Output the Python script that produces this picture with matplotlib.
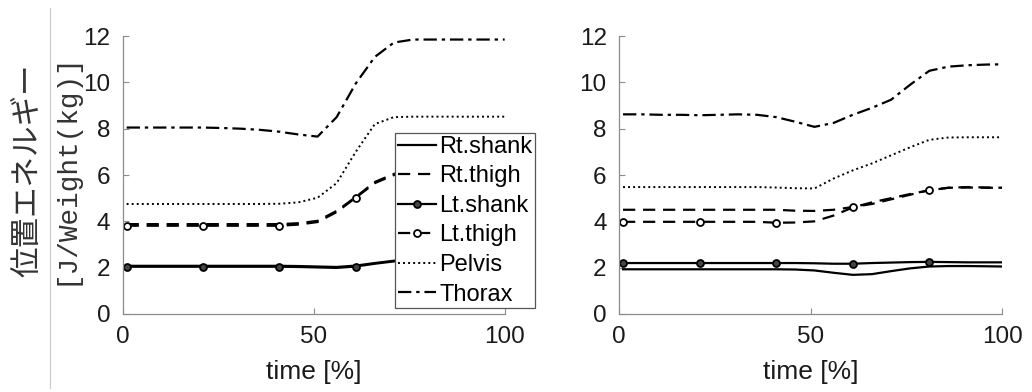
import matplotlib
matplotlib.use("Agg")
import matplotlib.pyplot as plt
from matplotlib.lines import Line2D

plt.rcParams["font.family"] = ["Liberation Sans", "Noto Sans CJK JP", "DejaVu Sans"]

# time axis samples [%] and the series
T = [1, 6, 11, 16, 21, 26, 31, 36, 41, 46, 51, 56, 61, 66, 71, 76, 81, 86, 91, 96, 100]
MARK_IDX = [0, 4, 8, 12, 16]          # markers at 1, 21, 41, 61, 81 %

LABELS = ["Rt.shank", "Rt.thigh", "Lt.shank", "Lt.thigh", "Pelvis", "Thorax"]

# left panel
L_rshank = [2.08] * 9 + [2.07, 2.05, 2.03, 2.09, 2.20, 2.30, 2.33, 2.33, 2.33, 2.33, 2.33, 2.33]
L_rthigh = [3.88] * 9 + [3.92, 4.02, 4.45, 5.05, 5.70, 6.05, 6.15, 6.18, 6.18, 6.18, 6.18, 6.18]
L_lshank = [2.04] * 9 + [2.03, 2.01, 1.99, 2.05, 2.17, 2.27, 2.30, 2.30, 2.30, 2.30, 2.30, 2.30]
L_lthigh = [3.81] * 9 + [3.86, 3.97, 4.40, 5.02, 5.65, 6.00, 6.12, 6.15, 6.15, 6.15, 6.15, 6.15]
L_pelvis = [4.75] * 8 + [4.76, 4.82, 5.02, 5.65, 7.00, 8.20, 8.50, 8.52, 8.52, 8.52, 8.52, 8.52, 8.52]
L_thorax = [8.05, 8.05, 8.05, 8.05, 8.05, 8.03, 8.00, 7.95, 7.87, 7.75, 7.66,
            8.50, 9.95, 11.10, 11.72, 11.85, 11.85, 11.85, 11.85, 11.85, 11.85]

# right panel
R_rshank = [1.93] * 9 + [1.92, 1.88, 1.78, 1.69, 1.72, 1.85, 1.97, 2.05, 2.07, 2.07, 2.06, 2.05]
R_rthigh = [4.50] * 9 + [4.46, 4.45, 4.50, 4.62, 4.75, 4.95, 5.15, 5.35, 5.45, 5.46, 5.45, 5.45]
R_lshank = [2.20] * 9 + [2.20, 2.19, 2.17, 2.17, 2.20, 2.22, 2.24, 2.25, 2.24, 2.23, 2.23, 2.23]
R_lthigh = [3.98] * 8 + [3.94, 3.95, 4.00, 4.25, 4.60, 4.82, 5.00, 5.18, 5.34, 5.45, 5.48, 5.46, 5.45]
R_pelvis = [5.48] * 8 + [5.46, 5.43, 5.42, 5.85, 6.20, 6.50, 6.85, 7.20, 7.52, 7.62, 7.63, 7.63, 7.63]
R_thorax = [8.62, 8.62, 8.60, 8.60, 8.58, 8.60, 8.62, 8.60, 8.50, 8.30, 8.08,
            8.25, 8.60, 8.90, 9.25, 9.90, 10.50, 10.68, 10.74, 10.77, 10.78]

STYLES = [
    dict(ls="-", lw=1.6),
    dict(ls=(0, (5.5, 3.5)), lw=1.6),
    dict(ls="-", lw=1.6, marker="o", ms=5, mfc="#444444", mec="k", mew=1.3, markevery=MARK_IDX),
    dict(ls=(0, (5.5, 3.5)), lw=1.6, marker="o", ms=5, mfc="white", mec="k", mew=1.3, markevery=MARK_IDX),
    dict(ls=(0, (1, 1.6)), lw=1.4),
    dict(ls=(0, (6, 2.2, 1.5, 2.2)), lw=1.6),
]

TICK_FS = 17.5
AX_GRAY = "#8c8c8c"

fig = plt.figure(figsize=(10.32, 3.92), dpi=100)
ax1 = fig.add_axes([0.119, 0.199, 0.370, 0.709])
ax2 = fig.add_axes([0.600, 0.199, 0.371, 0.709])

for ax, series in ((ax1, [L_rshank, L_rthigh, L_lshank, L_lthigh, L_pelvis, L_thorax]),
                   (ax2, [R_rshank, R_rthigh, R_lshank, R_lthigh, R_pelvis, R_thorax])):
    for ys, lab, st in zip(series, LABELS, STYLES):
        ax.plot(T, ys, color="k", label=lab, **st)
    ax.set_xlim(0, 100)
    ax.set_ylim(0, 12)
    ax.set_xticks([0, 50, 100])
    ax.set_yticks(range(0, 13, 2))
    ax.tick_params(direction="in", length=4, width=0.8, color=AX_GRAY,
                   labelsize=TICK_FS, labelcolor="#1a1a1a", pad=9)
    for s in ("top", "right"):
        ax.spines[s].set_visible(False)
    for s in ("left", "bottom"):
        ax.spines[s].set_color(AX_GRAY)
        ax.spines[s].set_linewidth(0.9)
    ax.set_xlabel("time [%]", fontsize=19, color="#1a1a1a", labelpad=8)

leg = ax1.legend(loc="upper left", bbox_to_anchor=(395 / 1032, 1 - 133 / 392),
                 bbox_transform=fig.transFigure, fontsize=17, frameon=True,
                 fancybox=False, borderpad=0.12, borderaxespad=0, handlelength=1.6,
                 handletextpad=0.15, labelspacing=0.32)
leg.get_frame().set_edgecolor("#555555")
leg.get_frame().set_linewidth(0.9)
leg.get_frame().set_alpha(1)

# two-line vertical y label
fig.text(28 / 1032, 1 - 170 / 392, "位置エネルギー", rotation=90, ha="center", va="center",
         fontsize=22, family=["Noto Sans CJK JP", "DejaVu Sans"], color="#333333")
fig.text(65 / 1032, 1 - 169 / 392, "[J/Weight(kg)]", rotation=90, ha="center", va="center",
         fontsize=20, family=["Liberation Mono", "DejaVu Sans Mono"], color="#333333")

# faint page rule left of the label
fig.add_artist(Line2D([49.5 / 1032, 49.5 / 1032], [0.01, 0.98], color="#cccccc", lw=0.9))

fig.savefig("out.png", dpi=100)
